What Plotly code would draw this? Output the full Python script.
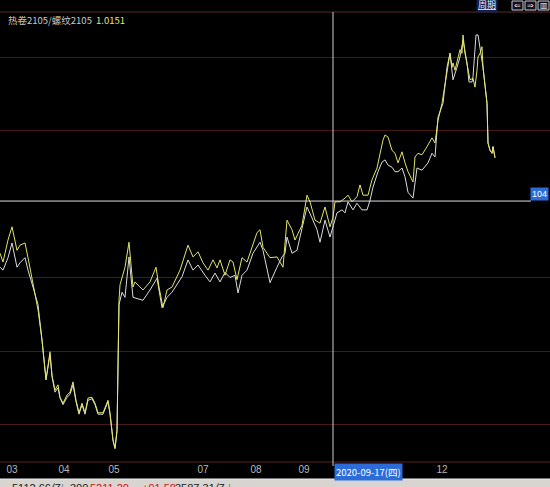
import plotly.graph_objects as go

W, H = 550, 487

title_name = "热卷2105/螺纹2105"
title_value = "1.0151"
cursor_date = "2020-09-17(四)"
cursor_value_label = "104"
cursor_t = 333
cursor_v = 104.04

month_tick_t = [12, 64, 114, 203, 256, 304, 442]
month_tick_labels = ["03", "04", "05", "07", "08", "09", "12"]

grid_levels = [101, 102, 103, 105, 106]

yellow_t = [0, 3, 5, 8, 12, 17, 20, 25, 28, 32, 38, 42, 46, 50, 52, 55, 58, 60, 63, 67,
            70, 73, 76, 79, 82, 85, 88, 92, 95, 98, 103, 108, 110, 113, 115, 117, 119, 120,
            125, 129, 131, 133, 135, 143, 150, 156, 159, 163, 167, 172, 180, 188, 193, 198,
            203, 208, 213, 217, 220, 225, 230, 233, 237, 242, 247, 252, 257, 260, 263, 270,
            277, 283, 285, 287, 292, 295, 302, 307, 310, 315, 320, 325, 330, 333, 335, 340,
            345, 348, 352, 357, 360, 363, 368, 372, 377, 380, 383, 385, 388, 392, 395, 398,
            402, 405, 408, 413, 415, 418, 422, 427, 432, 435, 438, 442, 445, 448, 450, 452,
            453, 455, 458, 460, 462, 463, 465, 468, 470, 473, 475, 477, 478, 480, 482, 483,
            487, 488, 490, 492, 493, 495]
yellow_v = [103.33, 103.21, 103.33, 103.51, 103.69, 103.37, 103.44, 103.47, 103.27, 102.97,
            102.56, 102.15, 101.61, 101.99, 101.67, 101.47, 101.54, 101.37, 101.29, 101.40,
            101.44, 101.58, 101.33, 101.16, 101.29, 101.16, 101.36, 101.37, 101.29, 101.16,
            101.16, 101.33, 101.16, 100.79, 100.68, 100.93, 102.69, 102.90,
            103.14, 103.48, 103.14, 102.87, 102.94, 102.83, 102.94, 103.14, 102.87, 102.59,
            102.83, 102.87, 103.10, 103.44, 103.28, 103.35,
            103.20, 103.10, 103.24, 103.13, 103.24, 103.03, 103.24, 103.21, 102.97, 103.27,
            103.21, 103.41, 103.61, 103.65, 103.41, 103.27,
            103.28, 103.14, 103.48, 103.78, 103.65, 103.51, 103.71, 104.12, 104.03, 103.78,
            103.74, 103.96, 103.69, 103.82, 104.03, 104.03,
            104.08, 104.12, 104.03, 104.10, 104.26, 104.12, 104.12, 104.33, 104.49, 104.69,
            104.87, 104.94, 104.91, 104.73, 104.69, 104.56,
            104.71, 104.56, 104.44, 104.30, 104.64, 104.69, 104.67, 104.78, 104.90, 104.83,
            105.14, 105.37, 105.65, 105.92, 106.05, 105.86,
            105.92, 105.82, 106.00, 106.10, 106.05, 106.30, 106.05, 105.86, 105.69, 105.71,
            105.59, 105.82, 106.00, 106.05, 106.14, 105.86,
            105.37, 104.83, 104.73, 104.69, 104.78, 104.63]

white_t = [0, 3, 8, 12, 17, 20, 25, 28, 33, 38, 42, 46, 50, 52, 55, 58, 60, 63, 67, 70,
           73, 76, 79, 82, 85, 88, 92, 95, 98, 103, 108, 110, 113, 115, 117, 119, 122, 125,
           129, 131, 133, 143, 150, 157, 162, 167, 172, 182, 188, 193, 198, 205, 210, 215,
           220, 225, 230, 235, 238, 242, 247, 253, 260, 263, 267, 270, 277, 282, 285, 287,
           292, 297, 302, 307, 312, 317, 320, 325, 330, 333, 337, 342, 345, 348, 353, 357,
           362, 367, 370, 373, 378, 382, 385, 388, 392, 395, 398, 402, 405, 408, 413, 417,
           422, 428, 432, 435, 438, 443, 447, 450, 452, 453, 457, 460, 463, 467, 469, 472,
           473, 476, 478, 481, 483, 487, 488, 490, 492, 493, 495]
white_v = [103.14, 103.10, 103.27, 103.47, 103.14, 103.20, 103.27, 103.10, 102.87, 102.63,
           102.15, 101.61, 101.95, 101.65, 101.44, 101.50, 101.36, 101.27, 101.37, 101.41,
           101.54, 101.31, 101.14, 101.27, 101.14, 101.33, 101.35, 101.27, 101.14, 101.14,
           101.31, 101.14, 100.78, 100.67, 100.90, 102.63, 102.80, 102.73,
           103.28, 103.00, 102.73, 102.69, 102.83, 102.99, 102.59, 102.73, 102.80, 103.01,
           103.24, 103.10, 103.17, 103.03, 102.94, 103.06,
           102.94, 103.07, 103.00, 103.03, 102.79, 103.03, 103.10, 103.33, 103.48, 103.37,
           103.14, 102.93, 103.14, 103.28, 103.33, 103.55,
           103.33, 103.37, 103.67, 103.96, 103.81, 103.65, 103.48, 103.78, 103.55, 103.69,
           103.88, 103.92, 103.88, 104.03, 103.92, 104.01,
           103.92, 103.92, 104.05, 104.23, 104.44, 104.57, 104.60, 104.53, 104.50, 104.44,
           104.44, 104.49, 104.37, 104.16, 104.08, 104.49,
           104.46, 104.56, 104.69, 104.64, 105.18, 105.37, 105.86, 106.05, 105.78, 105.69,
           105.86, 106.00, 106.23, 105.92, 105.66, 105.66,
           105.73, 106.30, 106.30, 106.07, 105.86, 105.37, 104.83, 104.73, 104.69, 104.78,
           104.63]

status_items = [("5112.66亿", "#202020", 10), ("|", "#808080", 59), ("300", "#202020", 68),
                ("5211.20", "#d01010", 88), ("+91.58", "#d01010", 140),
                ("3587.31亿", "#202020", 173), ("|", "#808080", 226)]

# ---- layout helpers (pixel -> paper) ----
def px(x):
    return x / W

def py(y):
    return 1 - y / H

PLOT_TOP, PLOT_BOTTOM = 12, 462
Y_TOP = 104 + (204 - PLOT_TOP) / 73.5
Y_BOT = 104 - (PLOT_BOTTOM - 204) / 73.5

fig = go.Figure()
fig.add_trace(go.Scatter(x=white_t, y=white_v, mode="lines",
                         line=dict(color="#dcdcdc", width=1), hoverinfo="skip"))
fig.add_trace(go.Scatter(x=yellow_t, y=yellow_v, mode="lines",
                         line=dict(color="#e4e46a", width=1), hoverinfo="skip"))

shapes = []
# top border line
shapes.append(dict(type="line", xref="paper", yref="paper", x0=0, x1=1,
                   y0=py(12), y1=py(12), line=dict(color="#5a2a28", width=1)))
# bottom axis line
shapes.append(dict(type="line", xref="paper", yref="paper", x0=0, x1=1,
                   y0=py(462), y1=py(462), line=dict(color="#5a2222", width=1)))
# crosshair
shapes.append(dict(type="line", xref="x", yref="paper", x0=cursor_t, x1=cursor_t,
                   y0=py(12), y1=py(466), line=dict(color="#d0d0d0", width=1)))
shapes.append(dict(type="line", xref="paper", yref="y", x0=0, x1=px(531),
                   y0=cursor_v, y1=cursor_v, line=dict(color="#e0e0e0", width=1)))
# status bar
shapes.append(dict(type="rect", xref="paper", yref="paper", x0=0, x1=1,
                   y0=py(487), y1=py(479), fillcolor="#d8d5d0", line=dict(width=0)))
shapes.append(dict(type="line", xref="paper", yref="paper", x0=0, x1=1,
                   y0=py(479), y1=py(479), line=dict(color="#f0f0f0", width=1)))
# top-right icons
for x0 in [512, 525, 538]:
    shapes.append(dict(type="rect", xref="paper", yref="paper", x0=px(x0), x1=px(x0 + 11),
                       y0=py(10), y1=py(1), line=dict(color="#c8c8d0", width=1),
                       fillcolor="#101020"))

annotations = [
    dict(text=title_name, x=px(6), y=py(20), xref="paper", yref="paper",
         xanchor="left", yanchor="middle", showarrow=False,
         font=dict(family="Noto Sans CJK SC", size=9.5, color="#c8c8c8")),
    dict(text=title_value, x=px(94), y=py(20), xref="paper", yref="paper",
         xanchor="left", yanchor="middle", showarrow=False,
         font=dict(family="Noto Sans CJK SC", size=9.5, color="#e6e67a")),
    dict(text=cursor_value_label, x=px(549), y=py(194), xref="paper", yref="paper",
         xanchor="right", yanchor="middle", showarrow=False, bgcolor="#2b6cd9",
         borderpad=1, font=dict(family="Liberation Sans", size=9, color="#ffffff")),
    dict(text=cursor_date, x=px(334), y=py(472), xref="paper", yref="paper",
         xanchor="left", yanchor="middle", showarrow=False, bgcolor="#2b6cd9",
         borderpad=1, font=dict(family="Noto Sans CJK SC", size=9.5, color="#ffffff")),
    dict(text="<u>周期</u>", x=px(476), y=py(5), xref="paper", yref="paper",
         xanchor="left", yanchor="middle", showarrow=False, bgcolor="#142050",
         font=dict(family="Noto Sans CJK SC", size=9, color="#e8e8f0")),
]
for sym, x0 in zip(["⇐", "⇒", "▥"], [512, 525, 538]):
    annotations.append(dict(text=sym, x=px(x0 + 5.5), y=py(5.5), xref="paper", yref="paper",
                            xanchor="center", yanchor="middle", showarrow=False,
                            font=dict(family="DejaVu Sans", size=8, color="#e0e0e8")))
for txt, col, x0 in status_items:
    annotations.append(dict(text=txt, x=px(x0), y=py(480), xref="paper", yref="paper",
                            xanchor="left", yanchor="top", showarrow=False,
                            font=dict(family="Liberation Sans", size=11, color=col)))

fig.update_layout(
    width=W, height=H, margin=dict(l=0, r=0, t=0, b=0),
    paper_bgcolor="#000000", plot_bgcolor="#000000",
    showlegend=False, shapes=shapes, annotations=annotations,
    xaxis=dict(range=[0, 550], domain=[0, 1], showgrid=False, zeroline=False,
               tickmode="array", tickvals=month_tick_t, ticktext=month_tick_labels,
               ticks="", tickfont=dict(family="Liberation Sans", size=10, color="#b8b8b8"),
               showline=False, fixedrange=True),
    yaxis=dict(range=[Y_BOT, Y_TOP], domain=[py(PLOT_BOTTOM), py(PLOT_TOP)],
               tickmode="array", tickvals=grid_levels, showticklabels=False,
               showgrid=True, gridcolor="#4a1818", gridwidth=1, zeroline=False,
               showline=False, fixedrange=True),
)

fig.write_html("out.html", config={"displayModeBar": False},
               post_script="document.body.style.margin='0';document.body.style.padding='0';"
                           "document.body.style.background='#000';")
